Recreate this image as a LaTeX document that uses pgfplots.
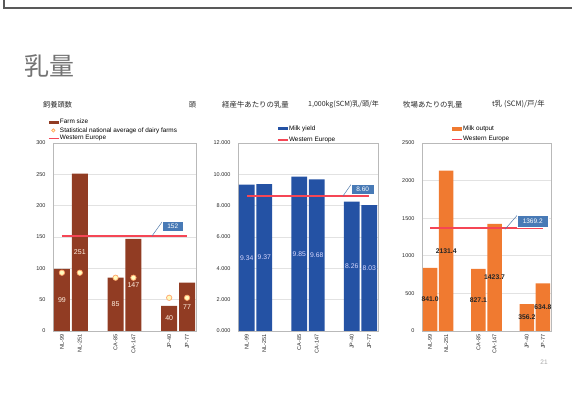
\documentclass[border=0pt]{standalone}
\usepackage{fontspec}
\setmainfont{Liberation Sans}
\newfontfamily\cjk{Noto Sans CJK JP}
\usepackage{pgfplots}
\pgfplotsset{compat=1.18}
\definecolor{brownbar}{RGB}{145,60,35}
\definecolor{bluebar}{RGB}{36,82,164}
\definecolor{orangebar}{RGB}{240,122,48}
\definecolor{weline}{RGB}{245,70,85}
\definecolor{callout}{RGB}{72,122,182}
\definecolor{gridc}{RGB}{226,226,226}
\definecolor{txt}{RGB}{40,40,40}
\pgfplotsset{
 barleg/.style={legend image code/.code={\fill[##1] (0pt,-1.8pt) rectangle (10pt,1.8pt);}},
 lineleg/.style={legend image code/.code={\draw[weline, line width=1.3pt] (0pt,0pt) -- (10pt,0pt);}},
 markleg/.style={legend image code/.code={\draw[fill=yellow!25, draw=orange!55!pink, line width=0.6pt] (4.5pt,0pt) circle (1.7pt);}},
 slideax/.style={
  scale only axis, height=188pt, anchor=south west,
  xmin=-0.5, xmax=7.5, xtick={0,1,3,4,6,7},
  xticklabels={NL-99,NL-251,CA-85,CA-147,JP-40,JP-77},
  xticklabel style={rotate=90, anchor=east, font=\fontsize{5.5}{6}\selectfont, text=txt},
  yticklabel style={font=\fontsize{5.5}{6}\selectfont, xshift=-4pt, text=txt},
  major tick length=0pt,
  ymajorgrids, grid style={gridc, line width=0.6pt},
  axis line style={draw=gray!55, line width=0.8pt},
  legend style={draw=none, fill=none, font=\fontsize{6.4}{7}\selectfont, anchor=north west, row sep=1pt, inner sep=0pt, nodes={inner sep=0.5pt}},
  legend cell align=left,
  /pgf/number format/assume math mode=true,
  /pgf/number format/1000 sep={},
 }}
\begin{document}
\begin{tikzpicture}[x=1pt,y=1pt]
\useasboundingbox (0,0) rectangle (572,396);
% slide frame
\draw[gray!70!black, line width=1.4pt] (4,396) -- (4,388) -- (572,388);
\node[anchor=west, text=black!55, font=\cjk\fontsize{25}{28}\selectfont, inner sep=0pt] at (24,330) {乳量};
\node[text=black!35, font=\fontsize{6.5}{7}\selectfont] at (544,34) {21};
% titles
\node[anchor=west, inner sep=0pt, text=txt, font=\cjk\fontsize{7.2}{8}\selectfont] at (43,291.5) {飼養頭数};
\node[anchor=center, inner sep=0pt, text=txt, font=\cjk\fontsize{7.2}{8}\selectfont] at (192.5,291.5) {頭};
\node[anchor=west, inner sep=0pt, text=txt, font=\cjk\fontsize{7.4}{8}\selectfont] at (222,291.5) {経産牛あたりの乳量};
\node[anchor=west, inner sep=0pt, text=txt, font=\cjk\fontsize{7}{8}\selectfont] at (308,291.5) {1,000kg(SCM)乳/頭/年};
\node[anchor=west, inner sep=0pt, text=txt, font=\cjk\fontsize{7.4}{8}\selectfont] at (403,291.5) {牧場あたりの乳量};
\node[anchor=west, inner sep=0pt, text=txt, font=\cjk\fontsize{7.4}{8}\selectfont] at (492,291.5) {t乳 (SCM)/戸/年};

% ---------- left chart
\begin{axis}[slideax, at={(53pt,65pt)}, width=143pt, ymin=0, ymax=300, ytick={0,50,...,300},
  legend style={at={(-0.035,1.13)}}]
\addplot[ybar, bar width=0.9, bar shift=0pt, fill=brownbar, draw=none, barleg]
  coordinates {(0,99) (1,251) (3,85) (4,147) (6,40) (7,77)};
\addlegendentry{Farm size}
\addplot[only marks, mark=*, mark size=2.7pt, mark options={fill=yellow!25, draw=orange!45!pink, line width=0.7pt}, markleg]
  coordinates {(0,93) (1,93) (3,85) (4,85) (6,53) (7,53)};
\addlegendentry{Statistical national average of dairy farms}
\addplot[color=weline, line width=1.6pt, mark=none, lineleg]
  coordinates {(0,152) (7,152)};
\addlegendentry{Western Europe}
\addplot[draw=none, mark=none, forget plot, nodes near coords, point meta=explicit symbolic,
  nodes near coords style={anchor=center, text=white!88!orange, font=\fontsize{7}{7}\selectfont}]
  coordinates {(0,49.5)[99] (1,125.5)[251] (3,42.5)[85] (4,73.5)[147] (6,20)[40] (7,38.5)[77]};
\end{axis}

% ---------- middle chart
\begin{axis}[slideax, at={(238pt,65pt)}, width=140pt, ymin=0, ymax=12, ytick={0,2,...,12},
  yticklabel style={/pgf/number format/.cd, fixed, fixed zerofill, precision=3},
  legend style={at={(0.279,1.097)}, row sep=4.5pt}]
\addplot[ybar, bar width=0.9, bar shift=0pt, fill=bluebar, draw=none, barleg]
  coordinates {(0,9.34) (1,9.37) (3,9.85) (4,9.68) (6,8.26) (7,8.03)};
\addlegendentry{Milk yield}
\addplot[color=weline, line width=1.6pt, mark=none, lineleg]
  coordinates {(0,8.60) (7,8.60)};
\addlegendentry{Western Europe}
\addplot[draw=none, mark=none, forget plot, nodes near coords, point meta=explicit symbolic,
  nodes near coords style={anchor=center, text=white!85!blue, font=\fontsize{6.8}{7}\selectfont}]
  coordinates {(0,4.67)[9.34] (1,4.685)[9.37] (3,4.925)[9.85] (4,4.84)[9.68] (6,4.13)[8.26] (7,4.015)[8.03]};
\end{axis}

% ---------- right chart
\begin{axis}[slideax, at={(422pt,65pt)}, width=129pt, ymin=0, ymax=2500, ytick={0,500,...,2500},
  legend style={at={(0.225,1.095)}, row sep=3.5pt}]
\addplot[ybar, bar width=0.9, bar shift=0pt, fill=orangebar, draw=none, barleg]
  coordinates {(0,841.0) (1,2131.4) (3,827.1) (4,1423.7) (6,356.2) (7,634.8)};
\addlegendentry{Milk output}
\addplot[color=weline, line width=1.6pt, mark=none, lineleg]
  coordinates {(0,1369.2) (7,1369.2)};
\addlegendentry{Western Europe}
\addplot[draw=none, mark=none, forget plot, nodes near coords, point meta=explicit symbolic,
  nodes near coords style={anchor=center, text=black!85, font=\bfseries\fontsize{6.8}{7}\selectfont}]
  coordinates {(0,420.5)[841.0] (1,1065.7)[2131.4] (3,413.6)[827.1] (4,711.9)[1423.7] (6,178.1)[356.2] (7,317.4)[634.8]};
\end{axis}

% ---------- callouts
\draw[callout!80!gray, line width=0.5pt] (152,160) -- (162,174);
\node[fill=callout, draw=white, line width=0.4pt, text=white, font=\fontsize{6.5}{7}\selectfont,
  minimum width=21pt, minimum height=10pt, inner sep=0pt, anchor=north west] at (162,174.5) {152};
\draw[callout!80!gray, line width=0.5pt] (343,200) -- (351,211.5);
\node[fill=callout, draw=white, line width=0.4pt, text=white, font=\fontsize{6.5}{7}\selectfont,
  minimum width=23pt, minimum height=10pt, inner sep=0pt, anchor=north west] at (351,212) {8.60};
\draw[callout!80!gray, line width=0.5pt] (505,166.7) -- (517,180.5);
\node[fill=callout, draw=white, line width=0.4pt, text=white, font=\fontsize{6.5}{7}\selectfont,
  minimum width=31pt, minimum height=12pt, inner sep=0pt, anchor=north west] at (517,181) {1369.2};
\end{tikzpicture}
\end{document}
